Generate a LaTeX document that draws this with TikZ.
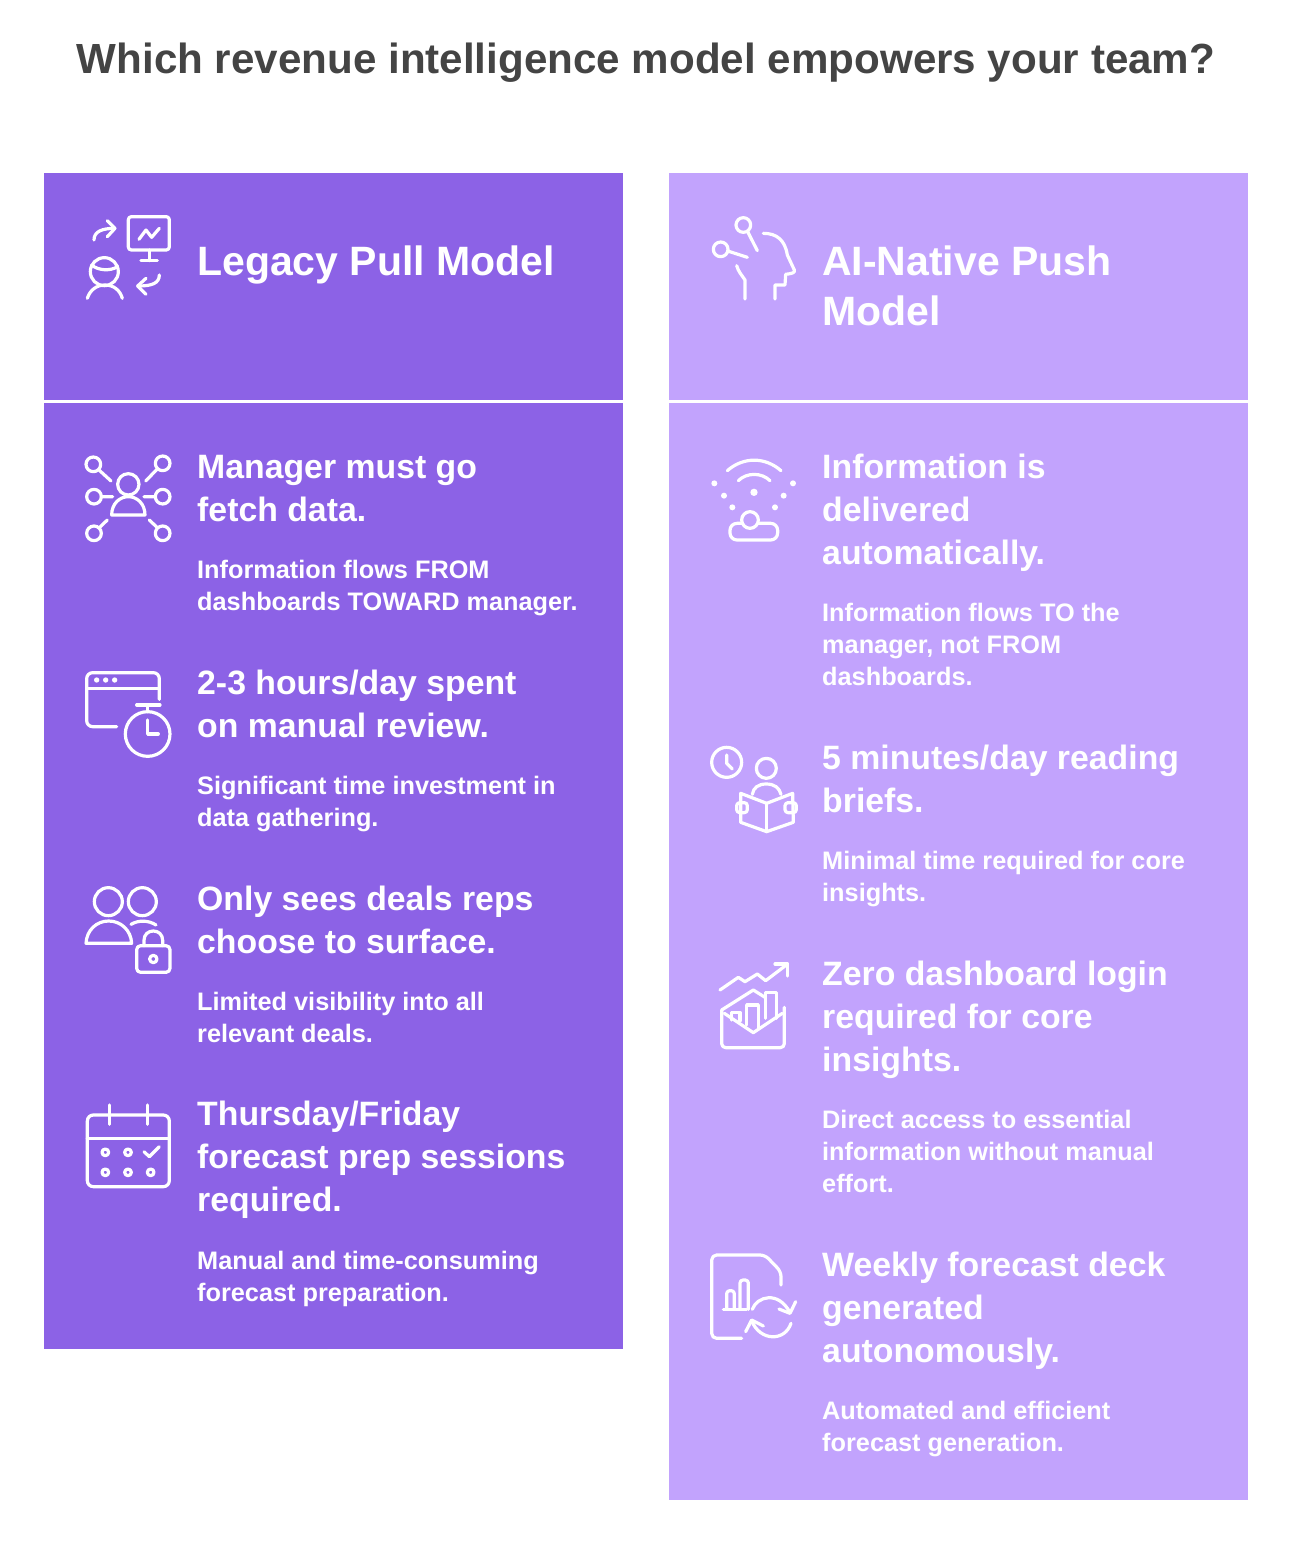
\documentclass[tikz,border=0pt]{standalone}
\usepackage{fontspec}
\setmainfont{Liberation Sans}
\definecolor{legacy}{RGB}{140,98,230}
\definecolor{native}{RGB}{194,163,253}
\definecolor{titlegray}{RGB}{68,68,68}
\newcommand{\hstrut}{\rule{0pt}{30pt}}
\newcommand{\sstrut}{\rule{0pt}{22pt}}
\newcommand{\tstrut}{\rule{0pt}{36pt}}
\tikzset{
  panelL/.style={fill=legacy,draw=none},
  panelR/.style={fill=native,draw=none},
  sep/.style={draw=white,line width=3pt},
  titletext/.style={anchor=north,inner sep=0pt,text=titlegray,font=\fontsize{42.15}{50}\selectfont\bfseries},
  headtext/.style={anchor=north west,inner sep=0pt,align=left,text=white,font=\fontsize{41}{50.5}\selectfont\bfseries},
  itemhead/.style={anchor=north west,inner sep=0pt,align=left,text=white,font=\fontsize{33.8}{43}\selectfont\bfseries},
  itemsub/.style={anchor=north west,inner sep=0pt,align=left,text=white,font=\fontsize{25.3}{32}\selectfont\bfseries},
  ico/.style={draw=white,line width=3.2pt,line cap=round,line join=round},
  icoscope/.style={x=0.3333pt,y=-0.3333pt}
}
\begin{document}
\begin{tikzpicture}[x=1pt,y=-1pt]
\useasboundingbox (0,0) rectangle (1292,1544);
\fill[white] (0,0) rectangle (1292,1544);
\node[titletext] (title) at (646,73-36) {\tstrut Which revenue intelligence model empowers your team?};
\path[panelL] (44,173) rectangle (623,1349);
\path[panelR] (669,173) rectangle (1248,1500);
\coordinate (sl1) at (44,401.5); \coordinate (sl2) at (623,401.5);
\coordinate (sr1) at (669,401.5); \coordinate (sr2) at (1248,401.5);
\draw[sep] (sl1) -- (sl2);
\draw[sep] (sr1) -- (sr2);
% left text
\node[headtext] (lh) at (197,275-30) {\hstrut Legacy Pull Model};
\node[itemhead] (l1) at (197,478-30) {\hstrut Manager must go\\fetch data.};
\node[itemsub] (l1s) at (197,578-22) {\sstrut Information flows FROM\\dashboards TOWARD manager.};
\node[itemhead] (l2) at (197,694-30) {\hstrut 2-3 hours/day spent\\on manual review.};
\node[itemsub] (l2s) at (197,794-22) {\sstrut Significant time investment in\\data gathering.};
\node[itemhead] (l3) at (197,910-30) {\hstrut Only sees deals reps\\choose to surface.};
\node[itemsub] (l3s) at (197,1010-22) {\sstrut Limited visibility into all\\relevant deals.};
\node[itemhead] (l4) at (197,1125-30) {\hstrut Thursday/Friday\\forecast prep sessions\\required.};
\node[itemsub] (l4s) at (197,1269-22) {\sstrut Manual and time-consuming\\forecast preparation.};
% right text
\node[headtext] (rh) at (822,275-30) {\hstrut AI-Native Push\\Model};
\node[itemhead] (r1) at (822,478-30) {\hstrut Information is\\delivered\\automatically.};
\node[itemsub] (r1s) at (822,621-22) {\sstrut Information flows TO the\\manager, not FROM\\dashboards.};
\node[itemhead] (r2) at (822,769-30) {\hstrut 5 minutes/day reading\\briefs.};
\node[itemsub] (r2s) at (822,869-22) {\sstrut Minimal time required for core\\insights.};
\node[itemhead] (r3) at (822,985-30) {\hstrut Zero dashboard login\\required for core\\insights.};
\node[itemsub] (r3s) at (822,1128-22) {\sstrut Direct access to essential\\information without manual\\effort.};
\node[itemhead] (r4) at (822,1276-30) {\hstrut Weekly forecast deck\\generated\\autonomously.};
\node[itemsub] (r4s) at (822,1419-22) {\sstrut Automated and efficient\\forecast generation.};
% icon 1
\begin{scope}[shift={(70,200)},icoscope]
\draw[ico] (72,120) .. controls (72,95) and (95,85) .. (135,85);
\draw[ico] (112,62) -- (135,85) -- (112,110);
\draw[ico,rounded corners=3pt] (175,50) rectangle (298,150);
\draw[ico] (207,118) -- (228,90) -- (245,112) -- (268,85);
\draw[ico] (238,150) -- (238,182) (213,182) -- (262,182);
\draw[ico] (103,215) circle [radius=42];
\draw[ico] (65,195) .. controls (85,212) and (120,214) .. (143,200);
\draw[ico] (52,295) .. controls (60,270) and (80,255) .. (105,255) .. controls (130,255) and (150,270) .. (157,295);
\draw[ico] (268,225) .. controls (268,250) and (245,258) .. (205,258);
\draw[ico] (228,235) -- (203,258) -- (228,283);
\end{scope}
% icon 2
\begin{scope}[shift={(70,445)},icoscope]
\draw[ico] (175,118) circle [radius=32];
\draw[ico] (125,210) .. controls (125,175) and (150,155) .. (175,155) .. controls (200,155) and (225,175) .. (225,210) -- cycle;
\foreach \cx/\cy in {70/58,278/55,72/155,278/155,72/265,278/265} \draw[ico] (\cx,\cy) circle [radius=22];
\draw[ico] (87,75) -- (123,108) (262,72) -- (227,108) (94,155) -- (128,155) (222,155) -- (256,155) (88,248) -- (112,225) (262,248) -- (238,225);
\end{scope}
% icon 3
\begin{scope}[shift={(70,660)},icoscope]
\draw[ico,rounded corners=6pt] (140,200) -- (50,200) -- (50,38) -- (268,38) -- (268,118);
\draw[ico] (50,85) -- (268,85);
\foreach \cx in {80,107,134} \fill[white] (\cx,60) circle [radius=8];
\draw[ico] (233,222) circle [radius=67];
\draw[ico] (233,137) -- (233,155) (200,135) -- (270,135);
\draw[ico] (233,180) -- (233,222) -- (265,222);
\end{scope}
% icon 4
\begin{scope}[shift={(70,875)},icoscope]
\draw[ico] (115,80) circle [radius=42];
\draw[ico] (217,80) circle [radius=42];
\draw[ico] (48,205) .. controls (50,165) and (80,138) .. (116,138) .. controls (152,138) and (183,165) .. (185,205) -- cycle;
\draw[ico] (183,148) .. controls (205,135) and (235,135) .. (258,150);
\draw[ico,rounded corners=4pt] (200,212) rectangle (300,292);
\draw[ico] (222,212) -- (222,196) .. controls (222,178) and (235,168) .. (250,168) .. controls (265,168) and (278,178) .. (278,196) -- (278,212);
\draw[ico] (250,252) circle [radius=11];
\end{scope}
% icon 5
\begin{scope}[shift={(70,1090)},icoscope]
\draw[ico,rounded corners=6pt] (52,75) rectangle (298,290);
\draw[ico] (52,145) -- (298,145);
\draw[ico] (118,45) -- (118,103) (232,45) -- (232,103);
\foreach \cx/\cy in {106/187,174/187,106/247,174/247,242/247} \draw[ico] (\cx,\cy) circle [radius=10];
\draw[ico] (222,185) -- (238,200) -- (268,170);
\end{scope}
% icon 6
\begin{scope}[shift={(695,205)},icoscope]
\draw[ico] (145,60) circle [radius=22];
\draw[ico] (77,133) circle [radius=22];
\draw[ico] (158,80) -- (187,137) (98,138) -- (157,157);
\draw[ico] (205,85) .. controls (245,85) and (270,105) .. (277,150) -- (298,195) .. controls (300,203) and (295,205) .. (272,208) -- (270,240) -- (240,240) -- (240,282);
\draw[ico] (125,182) .. controls (130,200) and (140,210) .. (150,225) -- (150,282);
\end{scope}
% icon 7
\begin{scope}[shift={(695,445)},icoscope]
\draw[ico] (97,77) .. controls (145,35) and (210,35) .. (258,77);
\draw[ico] (130,107) .. controls (155,82) and (200,82) .. (225,107);
\fill[white] (177,142) circle [radius=11];
\foreach \cx/\cy in {58/115,294/115,87/152,266/152,112/187,240/187} \fill[white] (\cx,\cy) circle [radius=9];
\draw[ico] (165,225) circle [radius=25];
\draw[ico,rounded corners=7pt] (142,235) -- (105,235) -- (105,285) -- (248,285) -- (248,235) -- (188,235);
\end{scope}
% icon 8
\begin{scope}[shift={(695,735)},icoscope]
\draw[ico] (95,82) circle [radius=45];
\draw[ico] (95,60) -- (95,85) -- (112,102);
\draw[ico] (214,100) circle [radius=30];
\draw[ico] (172,178) .. controls (175,158) and (190,147) .. (214,147) .. controls (238,147) and (253,158) .. (258,178);
\draw[ico] (137,175) -- (215,205) -- (293,175) -- (295,262) -- (215,290) -- (137,262) -- cycle;
\draw[ico] (215,205) -- (215,290);
\draw[ico,rounded corners=3pt] (157,203) -- (125,203) -- (125,233) -- (157,233) -- cycle;
\draw[ico,rounded corners=3pt] (270,203) -- (304,203) -- (304,233) -- (270,233) -- cycle;
\end{scope}
% icon 9
\begin{scope}[shift={(695,950)},icoscope]
\draw[ico] (75,120) -- (130,82) -- (150,95) -- (187,72) -- (212,92) -- (278,42);
\draw[ico] (240,42) -- (278,42) -- (278,78);
\draw[ico,rounded corners=4pt] (80,180) -- (80,293) -- (268,293) -- (268,172);
\draw[ico] (80,180) -- (175,120) -- (210,142);
\draw[ico] (88,190) -- (175,248) -- (262,190);
\draw[ico] (110,210) -- (110,187) -- (135,187) -- (135,212);
\draw[ico] (155,225) -- (155,165) -- (190,165) -- (190,235);
\draw[ico] (212,205) -- (212,128) -- (245,128) -- (245,205);
\end{scope}
% icon 10
\begin{scope}[shift={(695,1240)},icoscope]
\draw[ico,rounded corners=5pt] (140,295) -- (50,295) -- (50,45) -- (210,45) -- (258,95) -- (258,135);
\draw[ico] (85,208) -- (155,208);
\draw[ico,rounded corners=3pt] (95,208) -- (95,152) -- (118,152) -- (118,208);
\draw[ico,rounded corners=3pt] (135,208) -- (135,120) -- (160,120) -- (160,208);
\draw[ico] (172,208) .. controls (185,170) and (250,150) .. (285,218);
\draw[ico] (252,207) -- (285,220) -- (302,185);
\draw[ico] (288,250) .. controls (270,305) and (195,305) .. (170,242);
\draw[ico] (152,275) -- (170,240) -- (205,258);
\end{scope}
\end{tikzpicture}
\end{document}
